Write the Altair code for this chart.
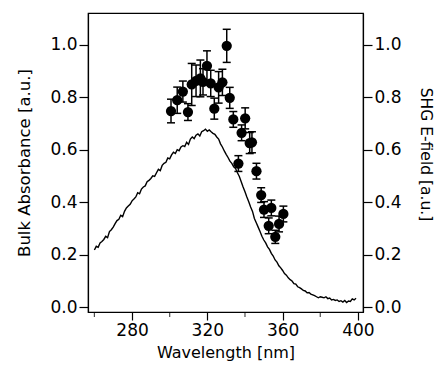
import altair as alt
import pandas as pd

# Bulk absorbance spectrum
abs_wl = list(range(260, 400))
abs_val = [0.218, 0.232, 0.228, 0.245, 0.25, 0.258, 0.27, 0.265, 0.288, 0.295,
           0.305, 0.318, 0.33, 0.335, 0.35, 0.345, 0.365, 0.378, 0.385, 0.392,
           0.405, 0.412, 0.42, 0.436, 0.432, 0.45, 0.458, 0.462, 0.478, 0.483,
           0.49, 0.5, 0.498, 0.512, 0.525, 0.52, 0.54, 0.548, 0.552, 0.568,
           0.565, 0.58, 0.59, 0.585, 0.6, 0.596, 0.61, 0.615, 0.612, 0.628,
           0.62, 0.64, 0.648, 0.642, 0.655, 0.66, 0.652, 0.668, 0.672, 0.678,
           0.67, 0.675, 0.668, 0.662, 0.658, 0.648, 0.64, 0.622, 0.61, 0.595,
           0.582, 0.57, 0.556, 0.548, 0.535, 0.528, 0.512, 0.498, 0.478, 0.458,
           0.44, 0.42, 0.402, 0.382, 0.365, 0.338, 0.322, 0.305, 0.288, 0.27,
           0.256, 0.245, 0.23, 0.22, 0.205, 0.195, 0.18, 0.172, 0.158, 0.15,
           0.14, 0.128, 0.122, 0.112, 0.105, 0.1, 0.09, 0.088, 0.078, 0.075,
           0.07, 0.064, 0.062, 0.055, 0.056, 0.05, 0.047, 0.044, 0.04, 0.036,
           0.04, 0.038, 0.036, 0.04, 0.033, 0.035, 0.028, 0.03, 0.026, 0.028,
           0.022, 0.025, 0.02, 0.026, 0.018, 0.024, 0.022, 0.032, 0.028, 0.034]

# SHG E-field points with error bars
shg_wl = [300.7, 304, 307, 309.7, 311.7, 314, 316.3, 317.7, 319.8, 321.8,
          323.7, 326, 328, 330.3, 331.9, 333.8, 336.5, 338.2, 340.1, 342.5,
          343.7, 346.1, 348.6, 350.1, 352.6, 354, 356.1, 358.1, 360.4]
shg_val = [0.747, 0.788, 0.821, 0.743, 0.848, 0.862, 0.871, 0.858, 0.919, 0.852,
           0.756, 0.837, 0.856, 0.995, 0.797, 0.715, 0.547, 0.664, 0.719, 0.625,
           0.628, 0.518, 0.427, 0.372, 0.31, 0.378, 0.268, 0.317, 0.355]
shg_err = [0.045, 0.05, 0.04, 0.032, 0.08, 0.06, 0.07, 0.05, 0.057, 0.05,
           0.04, 0.06, 0.05, 0.063, 0.04, 0.03, 0.03, 0.03, 0.04, 0.04,
           0.04, 0.03, 0.028, 0.03, 0.03, 0.03, 0.025, 0.03, 0.03]

x_major = [280, 320, 360, 400]
x_minor = [260, 300, 340, 380]
y_ticks = [0.0, 0.2, 0.4, 0.6, 0.8, 1.0]

abs_df = pd.DataFrame({"wl": abs_wl[:len(abs_val)], "a": abs_val})
shg_df = pd.DataFrame({"wl": shg_wl, "e": shg_val,
                       "lo": [v - e for v, e in zip(shg_val, shg_err)],
                       "hi": [v + e for v, e in zip(shg_val, shg_err)]})
minor_df = pd.DataFrame({"wl": x_minor})

FONT = "DejaVu Sans"
xscale = alt.Scale(domain=[256.6, 402.7], nice=False, zero=False)
yscale = alt.Scale(domain=[-0.018, 1.12], nice=False, zero=False)

x_axis = alt.Axis(values=x_major, title="Wavelength [nm]", tickSize=8,
                  labelPadding=2, titlePadding=6, grid=False, orient="bottom")
left_axis = alt.Axis(values=y_ticks, format=".1f", title="Bulk Absorbance [a.u.]",
                     orient="left", tickSize=9, labelPadding=2, titlePadding=17,
                     titleFontSize=16.5, grid=False)
right_axis = alt.Axis(values=y_ticks, format=".1f", title="SHG E-field [a.u.]",
                      orient="right", tickSize=9, labelPadding=2, titlePadding=16,
                      titleFontSize=15.5, titleY=141, grid=False)

line = alt.Chart(abs_df).mark_line(color="black", strokeWidth=1.4).encode(
    x=alt.X("wl:Q", scale=xscale, axis=x_axis),
    y=alt.Y("a:Q", scale=yscale, axis=left_axis),
)

minor = alt.Chart(minor_df).mark_tick(color="black", orient="vertical", size=5, thickness=1.2).encode(
    x=alt.X("wl:Q", scale=xscale, axis=x_axis),
    y=alt.value(301.5),
)

rule = alt.Chart(shg_df).mark_rule(color="black", strokeWidth=1.5).encode(
    x=alt.X("wl:Q", scale=xscale, axis=x_axis),
    y=alt.Y("lo:Q", scale=yscale, axis=right_axis),
    y2="hi:Q",
)
cap_lo = alt.Chart(shg_df).mark_tick(color="black", orient="horizontal", size=8, thickness=1.5, opacity=1).encode(
    x=alt.X("wl:Q", scale=xscale, axis=x_axis),
    y=alt.Y("lo:Q", scale=yscale, axis=right_axis),
)
cap_hi = alt.Chart(shg_df).mark_tick(color="black", orient="horizontal", size=8, thickness=1.5, opacity=1).encode(
    x=alt.X("wl:Q", scale=xscale, axis=x_axis),
    y=alt.Y("hi:Q", scale=yscale, axis=right_axis),
)
pts = alt.Chart(shg_df).mark_circle(color="black", size=105, opacity=1).encode(
    x=alt.X("wl:Q", scale=xscale, axis=x_axis),
    y=alt.Y("e:Q", scale=yscale, axis=right_axis),
)

shg = alt.layer(rule, cap_lo, cap_hi, pts)

chart = alt.layer(line, minor, shg).resolve_scale(y="independent").properties(
    width=275, height=299,
    autosize=alt.AutoSizeParams(type="none"),
    padding={"left": 88, "top": 13, "right": 74, "bottom": 54},
    background="white",
).configure_view(stroke="black", strokeWidth=1.2).configure_axis(
    labelFont=FONT, titleFont=FONT, labelFontSize=17, titleFontSize=16,
    labelColor="black", titleColor="black", tickColor="black", domainColor="black",
    domainWidth=1.2, tickWidth=1.2, titleFontWeight="normal",
)

chart.save("out.html", embed_options={"renderer": "svg", "actions": False})
